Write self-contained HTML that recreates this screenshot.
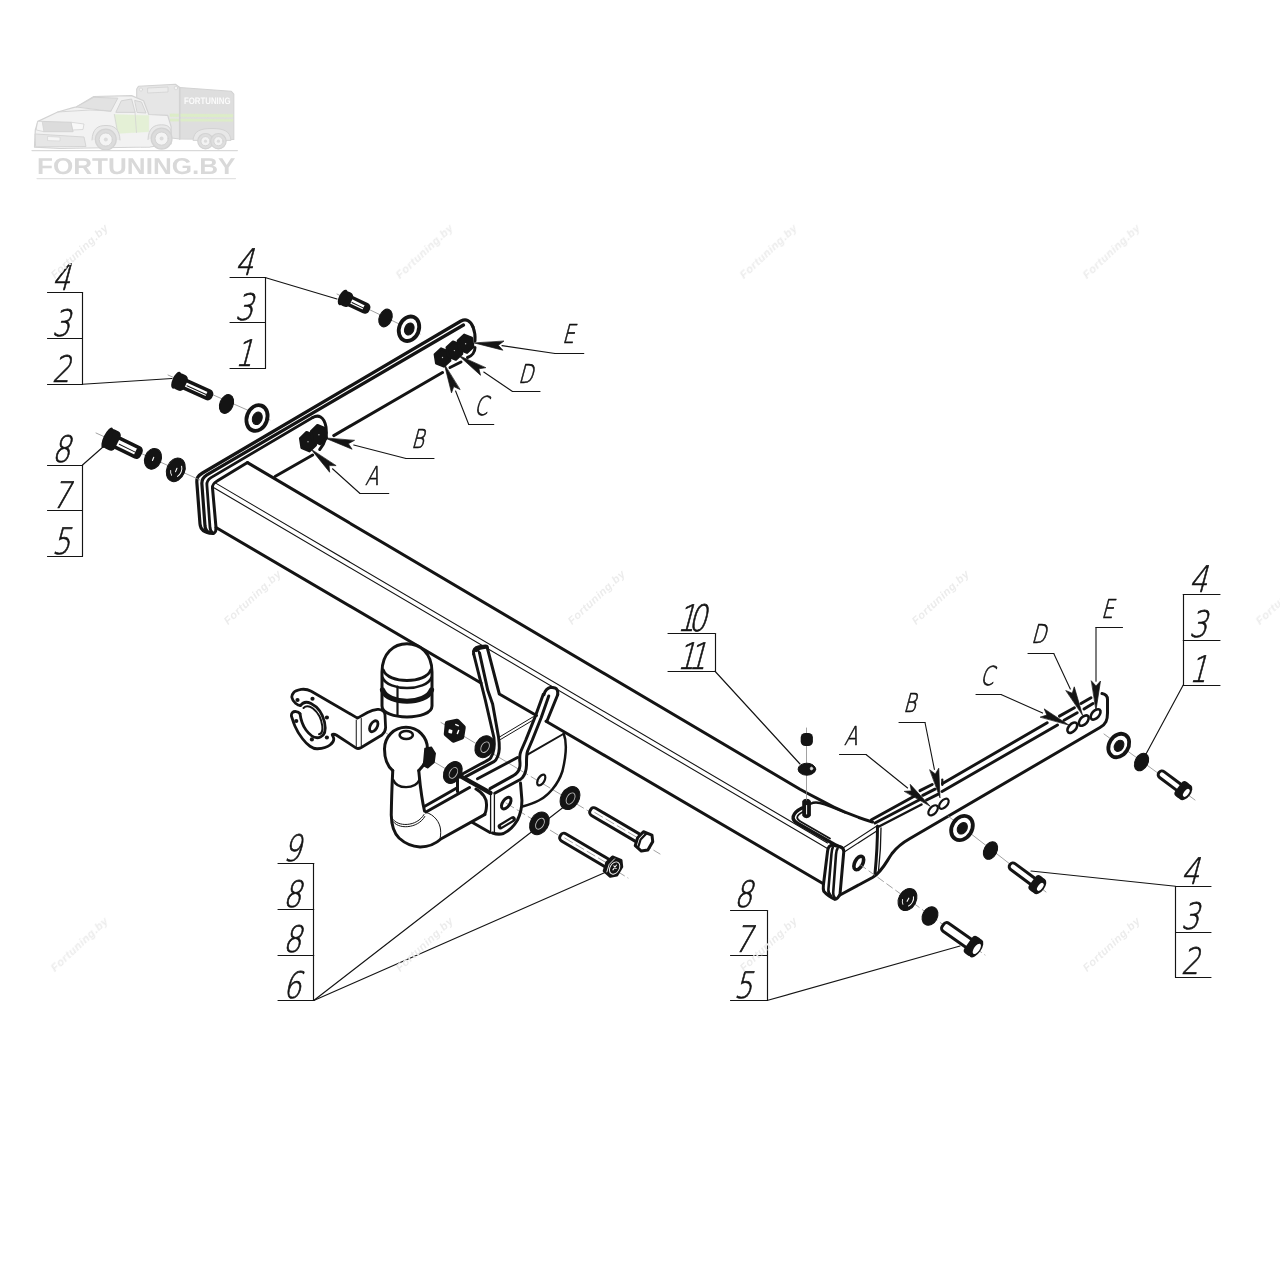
<!DOCTYPE html>
<html lang="ru"><head><meta charset="utf-8"><title>Fortuning.by</title>
<style>
html,body{margin:0;padding:0;background:#fff;}
body{width:1280px;height:1280px;overflow:hidden;}
svg{display:block;}
text{text-rendering:geometricPrecision;}
.g{font-family:"DejaVu Sans Light","DejaVu Sans ExtraLight","Liberation Sans",sans-serif;font-weight:200;fill:#141414;stroke:#141414;stroke-width:0.7px;}
.wm{font-family:"Liberation Sans",sans-serif;font-style:italic;font-weight:bold;font-size:11px;fill:#ececec;letter-spacing:0.5px;}
.lg{font-family:"Liberation Sans",sans-serif;font-weight:bold;fill:#d9d9d9;}
</style></head><body>
<svg width="1280" height="1280" viewBox="0 0 1280 1280" stroke-linecap="round" stroke-linejoin="round">
<rect width="1280" height="1280" fill="#fff"/>
<g opacity="0.999">
<line x1="47.50" y1="292.50" x2="82.50" y2="292.50" stroke="#141414" stroke-width="1.15" />
<line x1="47.50" y1="338.50" x2="82.50" y2="338.50" stroke="#141414" stroke-width="1.15" />
<line x1="47.50" y1="384.50" x2="82.50" y2="384.50" stroke="#141414" stroke-width="1.15" />
<line x1="82.50" y1="292.50" x2="82.50" y2="384.50" stroke="#141414" stroke-width="1.15" />
<text class="g" transform="translate(51.80 289.90) skewX(-15) scale(0.78 1)" font-size="36.5" text-anchor="start">4</text>
<text class="g" transform="translate(51.80 336.15) skewX(-15) scale(0.78 1)" font-size="36.5" text-anchor="start">3</text>
<text class="g" transform="translate(51.80 381.65) skewX(-15) scale(0.78 1)" font-size="36.5" text-anchor="start">2</text>
<line x1="82.50" y1="384.25" x2="172.00" y2="378.50" stroke="#141414" stroke-width="1.15" />
<line x1="47.50" y1="465.50" x2="82.50" y2="465.50" stroke="#141414" stroke-width="1.15" />
<line x1="47.50" y1="510.50" x2="82.50" y2="510.50" stroke="#141414" stroke-width="1.15" />
<line x1="47.50" y1="556.50" x2="82.50" y2="556.50" stroke="#141414" stroke-width="1.15" />
<line x1="82.50" y1="465.50" x2="82.50" y2="556.50" stroke="#141414" stroke-width="1.15" />
<text class="g" transform="translate(51.80 462.40) skewX(-15) scale(0.78 1)" font-size="36.5" text-anchor="start">8</text>
<text class="g" transform="translate(51.80 507.90) skewX(-15) scale(0.78 1)" font-size="36.5" text-anchor="start">7</text>
<text class="g" transform="translate(51.80 553.65) skewX(-15) scale(0.78 1)" font-size="36.5" text-anchor="start">5</text>
<line x1="82.50" y1="465.00" x2="103.50" y2="446.50" stroke="#141414" stroke-width="1.15" />
<line x1="230.00" y1="277.50" x2="265.00" y2="277.50" stroke="#141414" stroke-width="1.15" />
<line x1="230.00" y1="322.50" x2="265.00" y2="322.50" stroke="#141414" stroke-width="1.15" />
<line x1="230.00" y1="368.50" x2="265.00" y2="368.50" stroke="#141414" stroke-width="1.15" />
<line x1="265.50" y1="277.50" x2="265.50" y2="368.50" stroke="#141414" stroke-width="1.15" />
<text class="g" transform="translate(234.80 274.90) skewX(-15) scale(0.78 1)" font-size="36.5" text-anchor="start">4</text>
<text class="g" transform="translate(234.80 319.90) skewX(-15) scale(0.78 1)" font-size="36.5" text-anchor="start">3</text>
<text class="g" transform="translate(234.80 365.65) skewX(-15) scale(0.78 1)" font-size="36.5" text-anchor="start">1</text>
<line x1="265.00" y1="277.50" x2="337.00" y2="299.00" stroke="#141414" stroke-width="1.15" />
<line x1="668.00" y1="633.50" x2="715.00" y2="633.50" stroke="#141414" stroke-width="1.15" />
<line x1="668.00" y1="671.50" x2="715.00" y2="671.50" stroke="#141414" stroke-width="1.15" />
<line x1="715.50" y1="633.50" x2="715.50" y2="671.50" stroke="#141414" stroke-width="1.15" />
<text class="g" transform="translate(676.80 631.15) skewX(-15) scale(0.78 1)" font-size="36.5" text-anchor="start" letter-spacing="-8.8">10</text>
<text class="g" transform="translate(676.80 668.65) skewX(-15) scale(0.78 1)" font-size="36.5" text-anchor="start" letter-spacing="-8.8">11</text>
<line x1="715.00" y1="671.25" x2="800.00" y2="764.00" stroke="#141414" stroke-width="1.15" />
<line x1="1183.25" y1="594.50" x2="1220.00" y2="594.50" stroke="#141414" stroke-width="1.15" />
<line x1="1183.25" y1="640.50" x2="1220.00" y2="640.50" stroke="#141414" stroke-width="1.15" />
<line x1="1183.25" y1="685.50" x2="1220.00" y2="685.50" stroke="#141414" stroke-width="1.15" />
<line x1="1183.50" y1="594.50" x2="1183.50" y2="685.50" stroke="#141414" stroke-width="1.15" />
<text class="g" transform="translate(1188.80 591.65) skewX(-15) scale(0.78 1)" font-size="36.5" text-anchor="start">4</text>
<text class="g" transform="translate(1188.80 637.40) skewX(-15) scale(0.78 1)" font-size="36.5" text-anchor="start">3</text>
<text class="g" transform="translate(1188.80 682.40) skewX(-15) scale(0.78 1)" font-size="36.5" text-anchor="start">1</text>
<line x1="1183.25" y1="685.00" x2="1146.00" y2="754.00" stroke="#141414" stroke-width="1.15" />
<line x1="1175.50" y1="886.50" x2="1211.00" y2="886.50" stroke="#141414" stroke-width="1.15" />
<line x1="1175.50" y1="932.50" x2="1211.00" y2="932.50" stroke="#141414" stroke-width="1.15" />
<line x1="1175.50" y1="977.50" x2="1211.00" y2="977.50" stroke="#141414" stroke-width="1.15" />
<line x1="1175.50" y1="886.50" x2="1175.50" y2="977.50" stroke="#141414" stroke-width="1.15" />
<text class="g" transform="translate(1180.80 883.65) skewX(-15) scale(0.78 1)" font-size="36.5" text-anchor="start">4</text>
<text class="g" transform="translate(1180.80 929.40) skewX(-15) scale(0.78 1)" font-size="36.5" text-anchor="start">3</text>
<text class="g" transform="translate(1180.80 974.40) skewX(-15) scale(0.78 1)" font-size="36.5" text-anchor="start">2</text>
<line x1="1175.50" y1="886.25" x2="1031.00" y2="871.00" stroke="#141414" stroke-width="1.15" />
<line x1="730.50" y1="910.50" x2="767.00" y2="910.50" stroke="#141414" stroke-width="1.15" />
<line x1="730.50" y1="955.50" x2="767.00" y2="955.50" stroke="#141414" stroke-width="1.15" />
<line x1="730.50" y1="1000.50" x2="767.00" y2="1000.50" stroke="#141414" stroke-width="1.15" />
<line x1="767.50" y1="910.50" x2="767.50" y2="1000.50" stroke="#141414" stroke-width="1.15" />
<text class="g" transform="translate(733.80 907.40) skewX(-15) scale(0.78 1)" font-size="36.5" text-anchor="start">8</text>
<text class="g" transform="translate(733.80 952.40) skewX(-15) scale(0.78 1)" font-size="36.5" text-anchor="start">7</text>
<text class="g" transform="translate(733.80 997.90) skewX(-15) scale(0.78 1)" font-size="36.5" text-anchor="start">5</text>
<line x1="767.00" y1="1000.50" x2="960.00" y2="946.00" stroke="#141414" stroke-width="1.15" />
<line x1="278.00" y1="863.50" x2="313.75" y2="863.50" stroke="#141414" stroke-width="1.15" />
<line x1="278.00" y1="909.50" x2="313.75" y2="909.50" stroke="#141414" stroke-width="1.15" />
<line x1="278.00" y1="955.50" x2="313.75" y2="955.50" stroke="#141414" stroke-width="1.15" />
<line x1="278.00" y1="1000.50" x2="313.75" y2="1000.50" stroke="#141414" stroke-width="1.15" />
<line x1="313.50" y1="863.50" x2="313.50" y2="1000.50" stroke="#141414" stroke-width="1.15" />
<text class="g" transform="translate(282.80 861.15) skewX(-15) scale(0.78 1)" font-size="36.5" text-anchor="start">9</text>
<text class="g" transform="translate(282.80 906.90) skewX(-15) scale(0.78 1)" font-size="36.5" text-anchor="start">8</text>
<text class="g" transform="translate(282.80 952.40) skewX(-15) scale(0.78 1)" font-size="36.5" text-anchor="start">8</text>
<text class="g" transform="translate(282.80 997.90) skewX(-15) scale(0.78 1)" font-size="36.5" text-anchor="start">6</text>
<line x1="313.75" y1="1000.50" x2="563.00" y2="807.50" stroke="#141414" stroke-width="1.15" />
<line x1="313.75" y1="1000.50" x2="605.00" y2="872.50" stroke="#141414" stroke-width="1.15" />
<text class="g" transform="translate(365.00 484.50) skewX(-15) scale(0.74 1)" font-size="26">A</text>
<line x1="360.00" y1="493.50" x2="388.75" y2="493.50" stroke="#141414" stroke-width="1.15" />
<line x1="360.00" y1="493.50" x2="332.50" y2="468.75" stroke="#141414" stroke-width="1.1" />
<path d="M311.25,449.40 L329.66,472.25 L329.05,465.61 L335.72,465.60 Z" fill="#141414" stroke="#141414" stroke-width="0.7"/>
<text class="g" transform="translate(411.00 447.50) skewX(-15) scale(0.74 1)" font-size="26">B</text>
<line x1="406.00" y1="458.50" x2="434.00" y2="458.50" stroke="#141414" stroke-width="1.15" />
<line x1="406.00" y1="458.50" x2="353.75" y2="445.00" stroke="#141414" stroke-width="1.1" />
<path d="M325.00,438.00 L352.11,449.23 L348.39,443.69 L354.24,440.49 Z" fill="#141414" stroke="#141414" stroke-width="0.7"/>
<text class="g" transform="translate(474.00 415.00) skewX(-15) scale(0.74 1)" font-size="26">C</text>
<line x1="468.75" y1="424.50" x2="493.75" y2="424.50" stroke="#141414" stroke-width="1.15" />
<line x1="468.75" y1="424.50" x2="455.60" y2="391.00" stroke="#141414" stroke-width="1.1" />
<path d="M444.40,364.40 L451.51,392.87 L453.74,386.58 L459.80,389.38 Z" fill="#141414" stroke="#141414" stroke-width="0.7"/>
<text class="g" transform="translate(518.00 382.50) skewX(-15) scale(0.74 1)" font-size="26">D</text>
<line x1="512.50" y1="391.50" x2="540.00" y2="391.50" stroke="#141414" stroke-width="1.15" />
<line x1="512.50" y1="391.50" x2="483.75" y2="372.00" stroke="#141414" stroke-width="1.1" />
<path d="M458.75,355.60 L480.53,375.27 L478.88,368.80 L485.47,367.74 Z" fill="#141414" stroke="#141414" stroke-width="0.7"/>
<text class="g" transform="translate(562.00 342.50) skewX(-15) scale(0.74 1)" font-size="26">E</text>
<line x1="555.00" y1="353.50" x2="583.75" y2="353.50" stroke="#141414" stroke-width="1.15" />
<line x1="555.00" y1="353.50" x2="502.00" y2="345.60" stroke="#141414" stroke-width="1.1" />
<path d="M474.40,343.00 L502.85,350.20 L498.36,345.26 L503.69,341.24 Z" fill="#141414" stroke="#141414" stroke-width="0.7"/>
<text class="g" transform="translate(844.00 745.00) skewX(-15) scale(0.74 1)" font-size="26">A</text>
<line x1="839.50" y1="754.50" x2="866.00" y2="754.50" stroke="#141414" stroke-width="1.15" />
<line x1="866.00" y1="754.50" x2="907.60" y2="788.00" stroke="#141414" stroke-width="1.1" />
<path d="M930.00,806.00 L910.21,784.33 L911.24,790.92 L904.58,791.34 Z" fill="#141414" stroke="#141414" stroke-width="0.7"/>
<text class="g" transform="translate(903.00 712.00) skewX(-15) scale(0.74 1)" font-size="26">B</text>
<line x1="899.00" y1="722.50" x2="925.00" y2="722.50" stroke="#141414" stroke-width="1.15" />
<line x1="925.00" y1="722.50" x2="934.40" y2="769.40" stroke="#141414" stroke-width="1.1" />
<path d="M940.00,797.50 L938.75,768.18 L935.30,773.89 L929.92,769.94 Z" fill="#141414" stroke="#141414" stroke-width="0.7"/>
<text class="g" transform="translate(980.00 684.50) skewX(-15) scale(0.74 1)" font-size="26">C</text>
<line x1="976.00" y1="694.50" x2="1001.00" y2="694.50" stroke="#141414" stroke-width="1.15" />
<line x1="1001.00" y1="694.50" x2="1042.60" y2="713.10" stroke="#141414" stroke-width="1.1" />
<path d="M1068.75,725.00 L1044.22,708.89 L1046.84,715.03 L1040.49,717.08 Z" fill="#141414" stroke="#141414" stroke-width="0.7"/>
<text class="g" transform="translate(1031.00 643.00) skewX(-15) scale(0.74 1)" font-size="26">D</text>
<line x1="1028.00" y1="653.50" x2="1053.75" y2="653.50" stroke="#141414" stroke-width="1.15" />
<line x1="1053.75" y1="653.50" x2="1070.30" y2="689.00" stroke="#141414" stroke-width="1.1" />
<path d="M1082.50,715.00 L1074.25,686.83 L1072.28,693.21 L1066.11,690.66 Z" fill="#141414" stroke="#141414" stroke-width="0.7"/>
<text class="g" transform="translate(1101.00 617.50) skewX(-15) scale(0.74 1)" font-size="26">E</text>
<line x1="1096.00" y1="627.50" x2="1122.50" y2="627.50" stroke="#141414" stroke-width="1.15" />
<line x1="1096.00" y1="627.50" x2="1096.00" y2="681.30" stroke="#141414" stroke-width="1.1" />
<path d="M1096.00,710.00 L1100.50,681.00 L1096.00,685.93 L1091.50,681.00 Z" fill="#141414" stroke="#141414" stroke-width="0.7"/>
<path d="M247.5,462.65 L800,789.2 C812,795.8 825,802.5 833.75,807 C845,812.5 858,817.5 872.5,822" stroke="#141414" stroke-width="3.0" fill="none" />
<line x1="214.40" y1="482.40" x2="827.50" y2="843.00" stroke="#141414" stroke-width="1.1" />
<line x1="213.90" y1="487.80" x2="827.00" y2="848.20" stroke="#141414" stroke-width="1.1" />
<line x1="216.00" y1="527.50" x2="481.00" y2="683.00" stroke="#141414" stroke-width="3.0" />
<path d="M487.3,647.8 L499.3,694 L536.5,715.5" stroke="#141414" stroke-width="3.0" fill="none" />
<line x1="546.00" y1="721.20" x2="823.75" y2="884.00" stroke="#141414" stroke-width="3.0" />
<path d="M473,327 C470.5,320.5 466,318.5 461,321 L202.5,473 C197.5,476 196.5,478 196.9,483 L200,524 C200.5,530 204,532.5 213,533.5" stroke="#141414" stroke-width="3.2" fill="none" />
<path d="M463.5,325 L206.9,474.8 C202.5,477.5 201.6,480 201.9,484 L205,526 C205.4,530 206.5,531.5 209,532.5" stroke="#141414" stroke-width="3.2" fill="none" />
<path d="M312.7,417.5 L211,477.6 C207.5,479.8 206.6,481.5 206.9,485 L210,527.5 C210.3,530.5 211,532 213,533" stroke="#141414" stroke-width="2.8" fill="none" />
<path d="M247.5,462.5 L217.5,480.7 C213.5,483 212.2,484.5 212.5,488 L216,527.5 C216.3,531 215.5,532.5 213.5,533.5" stroke="#141414" stroke-width="3.0" fill="none" />
<path d="M473,327 C475,332 475.3,337 475,341" stroke="#141414" stroke-width="3.0" fill="none" />
<path d="M475,347.5 C475,352 472,356 467.5,357.5" stroke="#141414" stroke-width="3.0" fill="none" />
<line x1="275.00" y1="476.50" x2="312.70" y2="455.00" stroke="#141414" stroke-width="3.0" />
<line x1="333.75" y1="435.60" x2="442.50" y2="372.50" stroke="#141414" stroke-width="3.0" />
<line x1="450.00" y1="367.50" x2="461.00" y2="362.00" stroke="#141414" stroke-width="3.0" />
<path d="M312.7,417.5 C318,414.5 324,416 326,427 C327.2,434 326,442 319.7,449.5" stroke="#141414" stroke-width="3.0" fill="none" />
<line x1="337.00" y1="294.00" x2="420.00" y2="334.00" stroke="#8a8a8a" stroke-width="0.8" />
<line x1="168.00" y1="375.00" x2="270.00" y2="420.00" stroke="#8a8a8a" stroke-width="0.8" />
<line x1="96.00" y1="433.00" x2="200.00" y2="480.00" stroke="#8a8a8a" stroke-width="0.8" />
<path d="M315.76,444.98 L309.43,451.15 L301.68,447.87 L300.24,438.42 L306.57,432.25 L314.32,435.53 Z" stroke="#141414" stroke-width="2.6" fill="#141414" />
<circle cx="308.00" cy="441.70" r="0.7" fill="#bbb"/>
<path d="M326.66,437.98 L320.33,444.15 L312.58,440.87 L311.14,431.42 L317.47,425.25 L325.22,428.53 Z" stroke="#141414" stroke-width="2.6" fill="#141414" />
<circle cx="318.90" cy="434.70" r="0.7" fill="#bbb"/>
<path d="M450.11,360.58 L443.91,366.36 L436.30,363.29 L434.89,354.42 L441.09,348.64 L448.70,351.71 Z" stroke="#141414" stroke-width="2.6" fill="#141414" />
<circle cx="442.50" cy="357.50" r="0.7" fill="#bbb"/>
<path d="M462.01,353.68 L455.81,359.46 L448.20,356.39 L446.79,347.52 L452.99,341.74 L460.60,344.81 Z" stroke="#141414" stroke-width="2.6" fill="#141414" />
<circle cx="454.40" cy="350.60" r="0.7" fill="#bbb"/>
<path d="M473.21,346.83 L467.01,352.61 L459.40,349.54 L457.99,340.67 L464.19,334.89 L471.80,337.96 Z" stroke="#141414" stroke-width="2.6" fill="#141414" />
<circle cx="465.60" cy="343.75" r="0.7" fill="#bbb"/>
<g transform="translate(345.00 298.50) rotate(25.56)">
<rect x="0" y="-4.00" width="25.50" height="8.00" rx="3" fill="#fff" stroke="#141414" stroke-width="3.4"/>
<rect x="20.50" y="-4.00" width="5" height="8.00" rx="2.5" fill="#141414"/>
<line x1="8.00" y1="0.6" x2="20.50" y2="0.6" stroke="#141414" stroke-width="0.9"/>
<rect x="-4.00" y="-7.80" width="11.00" height="15.60" rx="4.5" fill="#141414"/>
<ellipse cx="-2.50" cy="0" rx="3.8" ry="8.40" fill="#141414"/>
</g>
<ellipse cx="385.50" cy="318.00" rx="6.30" ry="9.20" transform="rotate(22 385.50 318.00)" stroke="#141414" stroke-width="1" fill="#141414"/>
<ellipse cx="409.00" cy="328.75" rx="9.80" ry="12.60" transform="rotate(22 409.00 328.75)" stroke="#141414" stroke-width="3.8" fill="#fff"/>
<ellipse cx="409.30" cy="329.05" rx="4.60" ry="6.20" transform="rotate(22 409.30 329.05)" stroke="#141414" stroke-width="1" fill="#141414"/>
<g transform="translate(179.00 381.50) rotate(24.38)">
<rect x="0" y="-4.00" width="35.13" height="8.00" rx="3" fill="#fff" stroke="#141414" stroke-width="3.4"/>
<rect x="30.13" y="-4.00" width="5" height="8.00" rx="2.5" fill="#141414"/>
<line x1="9.00" y1="0.6" x2="30.13" y2="0.6" stroke="#141414" stroke-width="0.9"/>
<rect x="-4.50" y="-8.50" width="12.00" height="17.00" rx="4.5" fill="#141414"/>
<ellipse cx="-3.00" cy="0" rx="3.8" ry="9.10" fill="#141414"/>
</g>
<ellipse cx="226.50" cy="404.00" rx="6.60" ry="9.80" transform="rotate(22 226.50 404.00)" stroke="#141414" stroke-width="1" fill="#141414"/>
<ellipse cx="257.00" cy="418.00" rx="10.20" ry="13.20" transform="rotate(20 257.00 418.00)" stroke="#141414" stroke-width="3.8" fill="#fff"/>
<ellipse cx="257.30" cy="418.30" rx="4.80" ry="6.40" transform="rotate(20 257.30 418.30)" stroke="#141414" stroke-width="1" fill="#141414"/>
<g transform="translate(110.50 439.30) rotate(26.02)">
<rect x="0" y="-5.00" width="32.83" height="10.00" rx="3" fill="#fff" stroke="#141414" stroke-width="3.4"/>
<rect x="27.83" y="-5.00" width="5" height="10.00" rx="2.5" fill="#141414"/>
<line x1="10.00" y1="0.6" x2="27.83" y2="0.6" stroke="#141414" stroke-width="0.9"/>
<rect x="-5.00" y="-10.60" width="13.00" height="21.20" rx="4.5" fill="#141414"/>
<ellipse cx="-3.50" cy="0" rx="3.8" ry="11.20" fill="#141414"/>
</g>
<ellipse cx="153.00" cy="458.80" rx="8.20" ry="10.60" transform="rotate(22 153.00 458.80)" stroke="#141414" stroke-width="1" fill="#141414"/>
<line x1="153.70" y1="457.40" x2="152.50" y2="460.40" stroke="#fff" stroke-width="1.2"/>
<ellipse cx="175.80" cy="469.80" rx="9.00" ry="12.20" transform="rotate(22 175.80 469.80)" stroke="#141414" stroke-width="1" fill="#141414"/>
<g transform="rotate(22 175.80 469.80)"><path d="M179.85,464.31 A4.95,7.32 0 0 1 179.85,475.29" stroke="#fff" stroke-width="1.0" fill="none"/><path d="M174.00,476.51 A4.95,7.32 0 0 1 171.30,472.24" stroke="#fff" stroke-width="0.9" fill="none"/><line x1="176.30" y1="468.00" x2="176.30" y2="471.60" stroke="#fff" stroke-width="1.1"/></g>
<path d="M802,808 C797,810.5 794,813.5 793.2,816.5 C792.6,819.5 794.5,821.5 797.5,823.2 L832,843 C836,845.5 839,846.5 842,848" stroke="#141414" stroke-width="3.4" fill="none" />
<path d="M803.5,811.5 C799.5,813.5 797.3,815.5 797.2,817.5 C797.2,819 798.5,820.3 800.5,821.5 L830,838.5" stroke="#141414" stroke-width="1.8" fill="none" />
<path d="M810.6,803.75 C813,802.5 816,802 820,803 C828,805 836,808.5 845,812.5" stroke="#141414" stroke-width="2.4" fill="none" />
<path d="M803.2,801.5 L803.2,815.3 C804.5,817.8 808.5,817.8 809.9,815.3 L809.9,801.5 C808.5,799 804.5,799 803.2,801.5 Z" stroke="#141414" stroke-width="2.0" fill="#141414" />
<line x1="806.60" y1="805.50" x2="806.60" y2="814.00" stroke="#fff" stroke-width="1.0" />
<path d="M840,894.4 C838.5,897.5 837,899 835,899.4 C831,897.5 826.5,894.5 823.75,891.25 C823,889 823.2,887 823.4,885 L827.6,851 C828,847.5 829.5,845.3 832.5,845 L840.5,847 C843.2,848 844,849.5 843.75,852 Z" stroke="#141414" stroke-width="3.0" fill="#fff" />
<path d="M832.8,847.3 C831.9,849 831.7,851 831.5,853.5 L828.4,889.5 C828.2,892 828.8,894 831,896" stroke="#141414" stroke-width="2.6" fill="none" />
<path d="M837.5,848.6 C836.4,850 836.2,852 836,854.5 L833.2,892.5 C833,895 833.6,896.8 835,898.2" stroke="#141414" stroke-width="2.6" fill="none" />
<line x1="843.00" y1="848.00" x2="876.00" y2="826.50" stroke="#141414" stroke-width="1.1" />
<line x1="845.00" y1="851.50" x2="877.50" y2="830.50" stroke="#141414" stroke-width="1.1" />
<path d="M877.5,826 C877.5,840 876.5,858 875,874" stroke="#141414" stroke-width="3.0" fill="none" />
<path d="M881,828 C881,842 880,858 878.5,871" stroke="#141414" stroke-width="1.3" fill="none" />
<path d="M840,895 L872.5,877.5 C882,872 886,862 892,853.5 C897,847 902,843 910,838.5 L1100,727.5 C1106,724 1107.5,720 1107.5,713 L1107.5,699.5 C1107.5,695.5 1105,694 1102,693.5" stroke="#141414" stroke-width="3.0" fill="none" />
<ellipse cx="858.75" cy="863.00" rx="3.90" ry="7.40" transform="rotate(28 858.75 863.00)" stroke="#141414" stroke-width="3.6" fill="none"/>
<line x1="871.50" y1="819.70" x2="916.00" y2="795.30" stroke="#141414" stroke-width="3.0" />
<line x1="875.00" y1="823.00" x2="920.00" y2="799.50" stroke="#141414" stroke-width="3.0" />
<line x1="879.00" y1="826.50" x2="921.50" y2="804.50" stroke="#141414" stroke-width="2.5" />
<line x1="942.50" y1="783.50" x2="1047.20" y2="722.70" stroke="#141414" stroke-width="3.0" />
<line x1="942.00" y1="791.50" x2="1057.50" y2="725.00" stroke="#141414" stroke-width="3.0" />
<line x1="942.30" y1="779.50" x2="942.30" y2="785.00" stroke="#141414" stroke-width="2.2" />
<line x1="1059.40" y1="716.10" x2="1074.40" y2="707.70" stroke="#141414" stroke-width="3.0" />
<line x1="1064.00" y1="720.30" x2="1077.20" y2="712.80" stroke="#141414" stroke-width="3.0" />
<line x1="1081.00" y1="703.50" x2="1091.00" y2="697.80" stroke="#141414" stroke-width="3.0" />
<line x1="1084.00" y1="709.00" x2="1093.00" y2="703.50" stroke="#141414" stroke-width="3.0" />
<line x1="920.00" y1="790.60" x2="932.20" y2="784.50" stroke="#141414" stroke-width="3.0" />
<line x1="922.80" y1="795.30" x2="935.00" y2="789.20" stroke="#141414" stroke-width="3.0" />
<line x1="926.60" y1="800.00" x2="937.80" y2="794.40" stroke="#141414" stroke-width="3.0" />
<ellipse cx="933.10" cy="810.30" rx="3.50" ry="6.00" transform="rotate(42 933.10 810.30)" stroke="#141414" stroke-width="2.2" fill="none"/>
<ellipse cx="943.90" cy="803.75" rx="3.50" ry="6.00" transform="rotate(42 943.90 803.75)" stroke="#141414" stroke-width="2.2" fill="none"/>
<ellipse cx="1072.30" cy="727.70" rx="3.60" ry="6.20" transform="rotate(42 1072.30 727.70)" stroke="#141414" stroke-width="2.6" fill="none"/>
<ellipse cx="1083.75" cy="720.60" rx="3.60" ry="6.20" transform="rotate(42 1083.75 720.60)" stroke="#141414" stroke-width="2.6" fill="none"/>
<ellipse cx="1095.60" cy="714.40" rx="3.60" ry="6.20" transform="rotate(42 1095.60 714.40)" stroke="#141414" stroke-width="2.6" fill="none"/>
<line x1="1104.00" y1="734.00" x2="1195.00" y2="800.00" stroke="#8a8a8a" stroke-width="0.8" />
<line x1="948.00" y1="816.00" x2="1046.00" y2="892.00" stroke="#8a8a8a" stroke-width="0.8" />
<line x1="860.00" y1="864.50" x2="985.00" y2="955.00" stroke="#8a8a8a" stroke-width="0.8" stroke-dasharray="7 4"/>
<ellipse cx="1118.75" cy="745.50" rx="9.60" ry="12.40" transform="rotate(32 1118.75 745.50)" stroke="#141414" stroke-width="3.8" fill="#fff"/>
<ellipse cx="1119.05" cy="745.80" rx="4.40" ry="6.00" transform="rotate(32 1119.05 745.80)" stroke="#141414" stroke-width="1" fill="#141414"/>
<ellipse cx="1141.50" cy="762.00" rx="6.40" ry="9.40" transform="rotate(28 1141.50 762.00)" stroke="#141414" stroke-width="1" fill="#141414"/>
<g transform="translate(1181.50 789.30) rotate(-143.25)">
<rect x="0" y="-3.70" width="28.08" height="7.40" rx="3.5" fill="#fff" stroke="#141414" stroke-width="3.0"/>
<rect x="-6.00" y="-9.00" width="10.00" height="18.00" rx="4" fill="#141414"/>
<ellipse cx="-5.00" cy="0" rx="5.2" ry="9.00" fill="#141414"/>
<ellipse cx="-6.00" cy="0" rx="2.3" ry="4.60" fill="#fff"/>
</g>
<ellipse cx="962.00" cy="828.00" rx="10.00" ry="12.80" transform="rotate(32 962.00 828.00)" stroke="#141414" stroke-width="3.8" fill="#fff"/>
<ellipse cx="962.30" cy="828.30" rx="4.60" ry="6.20" transform="rotate(32 962.30 828.30)" stroke="#141414" stroke-width="1" fill="#141414"/>
<ellipse cx="990.50" cy="850.50" rx="6.40" ry="9.40" transform="rotate(28 990.50 850.50)" stroke="#141414" stroke-width="1" fill="#141414"/>
<g transform="translate(1035.50 883.30) rotate(-143.60)">
<rect x="0" y="-3.70" width="31.68" height="7.40" rx="3.5" fill="#fff" stroke="#141414" stroke-width="3.0"/>
<rect x="-6.00" y="-9.00" width="10.00" height="18.00" rx="4" fill="#141414"/>
<ellipse cx="-5.00" cy="0" rx="5.2" ry="9.00" fill="#141414"/>
<ellipse cx="-6.00" cy="0" rx="2.3" ry="4.60" fill="#fff"/>
</g>
<ellipse cx="907.50" cy="899.50" rx="8.80" ry="11.60" transform="rotate(28 907.50 899.50)" stroke="#141414" stroke-width="1" fill="#141414"/>
<g transform="rotate(28 907.50 899.50)"><path d="M911.46,894.28 A4.84,6.96 0 0 1 911.46,904.72" stroke="#fff" stroke-width="1.0" fill="none"/><path d="M905.74,905.88 A4.84,6.96 0 0 1 903.10,901.82" stroke="#fff" stroke-width="0.9" fill="none"/><line x1="908.00" y1="897.70" x2="908.00" y2="901.30" stroke="#fff" stroke-width="1.1"/></g>
<ellipse cx="930.00" cy="916.00" rx="7.40" ry="9.80" transform="rotate(28 930.00 916.00)" stroke="#141414" stroke-width="1" fill="#141414"/>
<g transform="translate(971.50 945.20) rotate(-144.94)">
<rect x="0" y="-4.90" width="34.82" height="9.80" rx="3.5" fill="#fff" stroke="#141414" stroke-width="3.0"/>
<rect x="-6.50" y="-10.40" width="10.50" height="20.80" rx="4" fill="#141414"/>
<ellipse cx="-5.50" cy="0" rx="5.2" ry="10.40" fill="#141414"/>
<ellipse cx="-6.50" cy="0" rx="2.8" ry="6.00" fill="#fff"/>
</g>
<line x1="806.50" y1="728.00" x2="806.50" y2="800.00" stroke="#8a8a8a" stroke-width="0.8" />
<rect x="800.7" y="733" width="12.2" height="13" rx="4.6" fill="#141414"/>
<ellipse cx="806.90" cy="769.20" rx="8.80" ry="6.00" transform="rotate(0 806.90 769.20)" stroke="#141414" stroke-width="1" fill="#141414"/>
<ellipse cx="811.50" cy="768.50" rx="1.30" ry="1.60" transform="rotate(0 811.50 768.50)" stroke="#ddd" stroke-width="0.5" fill="#ddd"/>
<line x1="366.00" y1="721.00" x2="470.00" y2="783.50" stroke="#8a8a8a" stroke-width="0.8" />
<line x1="441.00" y1="722.50" x2="520.00" y2="770.00" stroke="#8a8a8a" stroke-width="0.8" />
<line x1="520.00" y1="770.00" x2="660.00" y2="854.00" stroke="#8a8a8a" stroke-width="0.8" stroke-dasharray="9 4"/>
<line x1="506.00" y1="803.00" x2="628.00" y2="878.00" stroke="#8a8a8a" stroke-width="0.8" stroke-dasharray="9 4"/>
<path d="M563.75,733.75 C567,742 567,752 562.5,771 C558,785 548,796 538.75,800.5 C533,803.5 528,805 522.5,806.5" stroke="#141414" stroke-width="2.5" fill="none" />
<line x1="527.50" y1="754.70" x2="563.75" y2="733.75" stroke="#141414" stroke-width="2.0" />
<line x1="499.00" y1="737.30" x2="533.40" y2="716.70" stroke="#141414" stroke-width="1.0" />
<line x1="500.50" y1="739.50" x2="534.40" y2="719.30" stroke="#141414" stroke-width="1.0" />
<ellipse cx="541.25" cy="780.00" rx="3.20" ry="6.00" transform="rotate(30 541.25 780.00)" stroke="#141414" stroke-width="2.2" fill="none"/>
<path d="M473.7,654 C472.5,650 475,647.5 479,646.8 L485.5,646 C487,646 487.3,646.8 487.3,647.8" stroke="#141414" stroke-width="3.0" fill="none" />
<path d="M473.7,654 L485.3,700 L493.9,737.5 C494.8,745 494.5,752 490.8,757.8 C489,760 486,761.5 482,763.3 L461.9,774.2" stroke="#141414" stroke-width="3.0" fill="none" />
<path d="M479.5,652.9 L487.7,690 L492.6,704 L498.6,737.5 C499.8,746 499.5,752 497.8,756.25 C496.5,759.5 495,761 493.9,761.7 L465.8,776.6" stroke="#141414" stroke-width="3.0" fill="none" />
<path d="M477.5,649.5 L479.5,652.9" stroke="#141414" stroke-width="2.2" fill="none" />
<path d="M476,650.5 C478,648 481,647.5 486,647" stroke="#141414" stroke-width="3.4" fill="none" />
<path d="M544,694.7 C545,690.5 548,687.8 551,687.3 L555,688 C557.3,688.6 558,690.5 557.7,694.7" stroke="#141414" stroke-width="3.0" fill="none" />
<path d="M543.3,694.2 L535.6,715.6 L525.8,740 L521,751 C519.3,755 519.5,759 520,763 C520.3,767.5 519,770.5 517,772.8 C515.5,774.5 514.5,775 513.4,775.6 L490,788.6" stroke="#141414" stroke-width="3.0" fill="none" />
<path d="M548.75,696 L541.25,717.5 L532.3,740 L527.6,751 C526.3,755 526.5,760 526.5,765 C526.3,770.5 525,774.5 522.5,777.5 C521.5,778.5 521,779 520.3,779.5 L494.7,793.3" stroke="#141414" stroke-width="3.0" fill="none" />
<path d="M557.7,694.7 L546.8,721.5" stroke="#141414" stroke-width="3.0" fill="none" />
<line x1="477.50" y1="778.75" x2="517.50" y2="757.50" stroke="#141414" stroke-width="3.0" />
<line x1="459.50" y1="775.60" x2="490.50" y2="793.00" stroke="#141414" stroke-width="4.4" />
<line x1="490.60" y1="793.75" x2="490.60" y2="832.50" stroke="#141414" stroke-width="1.3" />
<line x1="494.40" y1="795.00" x2="494.40" y2="833.00" stroke="#141414" stroke-width="1.3" />
<path d="M492.5,833 C497,834.5 500,834.5 503.5,833.5 C509,831 514,826 517.5,820 C521,813 522,806 521.9,800 L520.5,783" stroke="#141414" stroke-width="3.0" fill="none" />
<line x1="472.50" y1="822.50" x2="490.00" y2="832.50" stroke="#141414" stroke-width="3.0" />
<ellipse cx="506.25" cy="803.10" rx="3.60" ry="6.60" transform="rotate(35 506.25 803.10)" stroke="#141414" stroke-width="3.0" fill="none"/>
<path d="M500.5,826.5 L513,819" stroke="#141414" stroke-width="5.6" fill="none" />
<line x1="501.50" y1="826.00" x2="512.00" y2="819.60" stroke="#fff" stroke-width="1.4" />
<path d="M392.75,770.6 C386,765 384.5,757 384.5,749 C384.5,737 394,727.3 406,727.3 C418,727.3 427.5,737 427.5,749 C427.5,758 424,766 418.75,770.6" stroke="#141414" stroke-width="3.0" fill="#fff" />
<ellipse cx="406.25" cy="735.00" rx="6.60" ry="4.00" transform="rotate(0 406.25 735.00)" stroke="#141414" stroke-width="2.6" fill="none"/>
<path d="M425.00,748.50 L431.30,747.20 L435.20,753.50 L434.00,762.50 L427.80,767.80 L423.50,765.50 Z" stroke="#141414" stroke-width="1.5" fill="#141414" />
<path d="M392.75,770.6 C392,785 391.5,800 391.25,815 C391.5,826 394,833 399,838 C405,843.5 412,846.5 420,846.9 C429,847 436,843.5 441.25,838.75 L485,814.4" stroke="#141414" stroke-width="3.0" fill="none" />
<path d="M418.75,770.6 C420,785 422,800 424.5,811" stroke="#141414" stroke-width="3.0" fill="none" />
<path d="M393.3,780 C397,789.5 415,789.5 419.4,780" stroke="#141414" stroke-width="2.4" fill="none" />
<path d="M392,818 C397,827.5 417,827 424,814.5" stroke="#141414" stroke-width="1.0" fill="none" />
<path d="M392.3,820.3 C397,830 418,829 424.8,816.5" stroke="#141414" stroke-width="1.0" fill="none" />
<path d="M426,812 L469.5,787.5" stroke="#141414" stroke-width="3.0" fill="none" />
<path d="M476,789 C483,793 487,799 486.5,806 C486.3,810 485.5,813 484.4,814.4" stroke="#141414" stroke-width="3.0" fill="none" />
<path d="M426.25,812.5 C434,814.5 440,822 440.6,830 C440.9,834 440.5,836.5 440,838.75" stroke="#141414" stroke-width="1.0" fill="none" />
<line x1="424.80" y1="806.30" x2="457.20" y2="787.80" stroke="#141414" stroke-width="3.0" />
<line x1="457.50" y1="780.00" x2="457.50" y2="791.50" stroke="#141414" stroke-width="3.0" />
<path d="M447.5,723.5 L457,721.5 L463,727.5 L461.5,737 L453.5,740 L446.5,734 Z" fill="#141414" stroke="#141414" stroke-width="5.5"/>
<path d="M449.5,730 l2.2,0.6 l-0.4,2.2 l-2.2,-0.6 Z M455.8,724.6 l2.4,1 M458.6,730.5 l-1.2,3" stroke="#fff" stroke-width="1.5" fill="#fff"/>
<ellipse cx="484.50" cy="746.75" rx="9.00" ry="11.40" transform="rotate(30 484.50 746.75)" stroke="#141414" stroke-width="1" fill="#141414"/>
<ellipse cx="485.10" cy="747.15" rx="3.78" ry="5.70" transform="rotate(30 485.10 747.15)" stroke="#bbb" stroke-width="0.9" fill="none"/>
<ellipse cx="485.10" cy="747.15" rx="1.80" ry="3.42" transform="rotate(30 485.10 747.15)" stroke="#141414" stroke-width="0.8" fill="#141414"/>
<ellipse cx="452.80" cy="772.50" rx="8.60" ry="11.60" transform="rotate(30 452.80 772.50)" stroke="#141414" stroke-width="1" fill="#141414"/>
<ellipse cx="453.40" cy="772.90" rx="3.61" ry="5.80" transform="rotate(30 453.40 772.90)" stroke="#bbb" stroke-width="0.9" fill="none"/>
<ellipse cx="453.40" cy="772.90" rx="1.72" ry="3.48" transform="rotate(30 453.40 772.90)" stroke="#141414" stroke-width="0.8" fill="#141414"/>
<ellipse cx="570.00" cy="798.10" rx="9.00" ry="12.20" transform="rotate(30 570.00 798.10)" stroke="#141414" stroke-width="1" fill="#141414"/>
<ellipse cx="570.60" cy="798.50" rx="3.78" ry="6.10" transform="rotate(30 570.60 798.50)" stroke="#bbb" stroke-width="0.9" fill="none"/>
<ellipse cx="570.60" cy="798.50" rx="1.80" ry="3.66" transform="rotate(30 570.60 798.50)" stroke="#141414" stroke-width="0.8" fill="#141414"/>
<ellipse cx="539.40" cy="823.30" rx="9.00" ry="12.00" transform="rotate(30 539.40 823.30)" stroke="#141414" stroke-width="1" fill="#141414"/>
<ellipse cx="540.00" cy="823.70" rx="3.78" ry="6.00" transform="rotate(30 540.00 823.70)" stroke="#bbb" stroke-width="0.9" fill="none"/>
<ellipse cx="540.00" cy="823.70" rx="1.80" ry="3.60" transform="rotate(30 540.00 823.70)" stroke="#141414" stroke-width="0.8" fill="#141414"/>
<path d="M300,713.75 C298,711 294,711 292.5,712.5 C291,714 291.3,716 291.9,717.5 C293,721 294,724 295,726.25 C297,731 300,735.5 302.5,738.75 C305,742 307.5,744.5 310,746.25 C312.5,748 315,748.9 317.5,748.75 C322,748.5 327,747.5 330,745 C332.5,743 334,741 333.75,738.75 C333.5,736.5 331.5,734.6 332.5,734.4 C333.8,734 335,734.3 336.25,735 L356.25,748.1 C358,749 359.5,748.5 361.25,747.5 L381.9,735 C384,733 385.6,730.5 385.6,727.5 L385,715 C384.8,712.5 383.7,711 382.5,710.6 C381,709.5 379.3,709.2 377.5,709.4 C374,709.8 370.5,711 367.5,712.5 L357.5,718.1 L311.25,691.25 C308,689.5 304.5,689 301.25,689.4 C298,690 295,690.8 293.75,692.5 C292,694.5 291.6,696 291.9,697.5 C292.3,699.5 293.5,701.5 295.5,703.2 C297,704.5 298.5,705.5 300.5,705.5" stroke="#141414" stroke-width="2.8" fill="#fff" />
<path d="M300.5,705.5 C303,702 307,701.5 311,703.5 C317,706.5 322.5,713.5 324.5,722 C326,729 325,735 320.5,737 C316,739 310.5,736 306,730 C303,726 301,721 300,713.75" stroke="#141414" stroke-width="2.8" fill="none" />
<path d="M303.5,708 C306,705.5 309.5,706 313,708.5 C318,712.5 321.5,719.5 322.3,726 C322.8,731 321.5,733.8 319,734.2" stroke="#141414" stroke-width="2.0" fill="none" />
<circle cx="297.5" cy="700" r="2.1" fill="#141414"/>
<circle cx="312.5" cy="698.75" r="2.1" fill="#141414"/>
<circle cx="326.9" cy="717.5" r="2.1" fill="#141414"/>
<circle cx="326.9" cy="737.5" r="2.1" fill="#141414"/>
<circle cx="311.9" cy="739.4" r="2.1" fill="#141414"/>
<circle cx="296.25" cy="721" r="2.1" fill="#141414"/>
<line x1="356.25" y1="720.00" x2="356.25" y2="746.50" stroke="#141414" stroke-width="1.0" />
<line x1="361.25" y1="718.50" x2="361.25" y2="746.00" stroke="#141414" stroke-width="1.0" />
<ellipse cx="373.75" cy="726.25" rx="3.40" ry="6.00" transform="rotate(30 373.75 726.25)" stroke="#141414" stroke-width="2.8" fill="none"/>
<path d="M382,706 L382,672 C382,653 394,643.8 407,643.8 C420,643.8 432,653 432,672 L432,706 C432,720.5 382,720.5 382,706 Z" stroke="#141414" stroke-width="3.0" fill="#fff" />
<path d="M383.3,670 C388,684 426,684 430.7,670" stroke="#141414" stroke-width="2.8" fill="none" />
<path d="M382.5,677.5 C388,691.5 426,691.5 431.5,677.5" stroke="#141414" stroke-width="2.6" fill="none" />
<path d="M382.5,690 C388,705 426,705 431.5,690" stroke="#141414" stroke-width="5.2" fill="none" />
<line x1="397.50" y1="686.50" x2="397.50" y2="715.50" stroke="#141414" stroke-width="2.2" />
<g transform="translate(590.50 810.00) rotate(30.49)">
<rect x="0" y="-4.20" width="62.67" height="8.40" rx="3.6" fill="#fff" stroke="#141414" stroke-width="3.0"/>
<line x1="5" y1="0" x2="58.67" y2="0" stroke="#999" stroke-width="0.8" stroke-dasharray="9 4"/>
<path d="M56.67,-8.10 L65.67,-9.60 L69.67,-4.32 L69.67,5.28 L64.67,9.60 L56.67,8.10 L54.67,0 Z" fill="#fff" stroke="#141414" stroke-width="3.0"/>
<path d="M60.17,-8.60 L58.17,0 L60.17,8.60" stroke="#141414" stroke-width="2.2" fill="none"/>
</g>
<g transform="translate(560.50 835.50) rotate(30.72)">
<rect x="0" y="-4.20" width="61.65" height="8.40" rx="3.6" fill="#fff" stroke="#141414" stroke-width="3.0"/>
<line x1="5" y1="0" x2="57.65" y2="0" stroke="#999" stroke-width="0.8" stroke-dasharray="9 4"/>
<path d="M55.65,-8.10 L64.65,-9.60 L68.65,-4.32 L68.65,5.28 L63.65,9.60 L55.65,8.10 L53.65,0 Z" fill="#141414" stroke="#141414" stroke-width="3.0"/>
<ellipse cx="63.15" cy="0.3" rx="4.6" ry="6.6" fill="none" stroke="#fff" stroke-width="0.9"/>
<path d="M61.35,-1.2 l3.4,1.2 M63.25,-3.2 l-0.6,6.0" stroke="#fff" stroke-width="1.0"/>
<path d="M58.45,-7.60 L56.65,0 L58.45,7.60" stroke="#fff" stroke-width="0.8" fill="none"/>
</g>
<g>
<path d="M136.7,89 L138.5,86.2 L175.4,84.3 L179.7,87.5 L179.7,139 L136.7,134 Z" stroke="#d3d3d3" stroke-width="1.1" fill="#e6e6e6"/>
<path d="M179.7,87.5 L231.3,91.3 L233.8,94 L233.8,139.5 L179.7,139 Z" stroke="#d3d3d3" stroke-width="1.1" fill="#dedede"/>
<path d="M141,134 L141,147 L150,147 L150,135 Z" stroke="#d3d3d3" stroke-width="0.8" fill="#e2e2e2"/>
<path d="M148,88 L168,87 L168,92 L148,93 Z" stroke="#d3d3d3" stroke-width="0.8" fill="#ececec"/>
<circle cx="141" cy="89.5" r="1.6" fill="#f4f4f4" stroke="#d3d3d3" stroke-width="0.7"/><circle cx="176" cy="88" r="1.8" fill="#f4f4f4" stroke="#d3d3d3" stroke-width="0.7"/>
<path d="M170,113.7 L233,114.2 L233,117.2 L170,116.8 Z" stroke="#dcecc8" stroke-width="0.3" fill="#dcecc8"/>
<path d="M170,118.8 L233,119.3 L233,121.6 L170,121.3 Z" stroke="#dcecc8" stroke-width="0.3" fill="#dcecc8"/>
<path d="M179.7,87.5 L179.7,139" stroke="#d3d3d3" stroke-width="1.6" fill="none"/>
<text x="184" y="104.3" font-family="Liberation Sans, sans-serif" font-weight="bold" font-size="9.4" fill="#fbfbfb" textLength="46.5" lengthAdjust="spacingAndGlyphs">FORTUNING</text>
<path d="M193,140 C194,131 200,128.5 212,128.5 C224,128.5 230,131 231,140 Z" stroke="#d3d3d3" stroke-width="1.0" fill="#e8e8e8"/>
<circle cx="205.5" cy="141.2" r="7.7" fill="#dedede" stroke="#d3d3d3" stroke-width="1.2"/><circle cx="205.5" cy="141.2" r="4.6" fill="#f3f3f3" stroke="#d3d3d3" stroke-width="0.9"/><circle cx="205.5" cy="141.2" r="1.6" fill="#dcdcdc"/>
<circle cx="218.4" cy="141.2" r="7.7" fill="#dedede" stroke="#d3d3d3" stroke-width="1.2"/><circle cx="218.4" cy="141.2" r="4.6" fill="#f3f3f3" stroke="#d3d3d3" stroke-width="0.9"/><circle cx="218.4" cy="141.2" r="1.6" fill="#dcdcdc"/>
<path d="M34.5,147.2 L35.3,130 L37.9,121.4 L57.7,112 L73.1,107.7 L76.6,106.8 L93.8,96.5 L131.6,95.6 L143.6,100.8 L148.8,114.5 L167.7,115.4 L171.1,126.6 L171.1,143.8 L150,147 L60,148.5 Z" stroke="#d3d3d3" stroke-width="1.2" fill="#f2f2f2"/>
<path d="M114.4,114.5 L148.8,115.4 L148.8,131.7 L117.8,133.4 Z" stroke="#e4f0d6" stroke-width="0.4" fill="#e4f0d6"/>
<path d="M76.6,106.8 L93.8,97.3 L117.8,98.2 L111,111 Z" stroke="#d3d3d3" stroke-width="1.0" fill="#e2e2e2"/>
<path d="M116,112 L121.3,100.8 L131.6,99 L135,112 Z" stroke="#d3d3d3" stroke-width="1.0" fill="#e4e4e4"/>
<path d="M135,100.5 L141.5,102 L146,113 L137.5,112.5 Z" stroke="#d3d3d3" stroke-width="1.0" fill="#e4e4e4"/>
<path d="M42.2,121.4 L71.4,122.3 L73.1,131.7 L43.9,131.7 Z" stroke="#d3d3d3" stroke-width="1.0" fill="#dcdcdc"/>
<path d="M71.4,122.3 L84,124 L83,129.5 L73,130 Z" stroke="#d3d3d3" stroke-width="0.8" fill="#f8f8f8"/>
<path d="M37.9,121.4 L42.2,121.4 L43.9,131.7 L36.5,130 Z" stroke="#d3d3d3" stroke-width="0.8" fill="#f6f6f6"/>
<path d="M35.5,134 L84,137 L86,146.5 L36,146.8 Z" stroke="#d3d3d3" stroke-width="0.9" fill="#e6e6e6"/>
<path d="M48,136.5 L60,137.2 L60,141 L48,140.6 Z" stroke="#d3d3d3" stroke-width="0.6" fill="#f6f6f6"/>
<path d="M57.7,112 L90,110 L111,111" stroke="#d3d3d3" stroke-width="0.9" fill="none"/>
<path d="M114.4,114.5 L117.8,133.4 M135,112 L136.5,132.5" stroke="#d3d3d3" stroke-width="0.8" fill="none"/>
<path d="M92,140 C92.5,128.5 98,125.5 106,125.5 C114,125.5 119.5,128.5 120,140" stroke="#d3d3d3" stroke-width="1.0" fill="#e9e9e9"/>
<path d="M148,139.5 C148.5,128 154,124.8 161.6,124.8 C169,124.8 171,128 171.1,134" stroke="#d3d3d3" stroke-width="1.0" fill="#e9e9e9"/>
<circle cx="105.8" cy="139.5" r="10.4" fill="#dcdcdc" stroke="#d3d3d3" stroke-width="1.3"/><circle cx="105.8" cy="139.5" r="6.6" fill="#f4f4f4" stroke="#d3d3d3" stroke-width="1"/><circle cx="105.8" cy="139.5" r="2" fill="#dcdcdc"/>
<circle cx="161.6" cy="138.6" r="10.4" fill="#dcdcdc" stroke="#d3d3d3" stroke-width="1.3"/><circle cx="161.6" cy="138.6" r="6.6" fill="#f4f4f4" stroke="#d3d3d3" stroke-width="1"/><circle cx="161.6" cy="138.6" r="2" fill="#dcdcdc"/>
<line x1="32" y1="150.6" x2="237.3" y2="150.6" stroke="#d9d9d9" stroke-width="1.4"/>
<text class="lg" x="37" y="173.9" font-size="23" textLength="198.5" lengthAdjust="spacingAndGlyphs">FORTUNING.BY</text>
<line x1="37" y1="178.6" x2="235.5" y2="178.6" stroke="#e2e2e2" stroke-width="1.1"/>
</g>
<text class="wm" transform="translate(82 254) rotate(-43)" text-anchor="middle" textLength="74" lengthAdjust="spacingAndGlyphs">Fortuning.by</text>
<text class="wm" transform="translate(427 254) rotate(-43)" text-anchor="middle" textLength="74" lengthAdjust="spacingAndGlyphs">Fortuning.by</text>
<text class="wm" transform="translate(771 254) rotate(-43)" text-anchor="middle" textLength="74" lengthAdjust="spacingAndGlyphs">Fortuning.by</text>
<text class="wm" transform="translate(1114 254) rotate(-43)" text-anchor="middle" textLength="74" lengthAdjust="spacingAndGlyphs">Fortuning.by</text>
<text class="wm" transform="translate(255 600) rotate(-43)" text-anchor="middle" textLength="74" lengthAdjust="spacingAndGlyphs">Fortuning.by</text>
<text class="wm" transform="translate(599 600) rotate(-43)" text-anchor="middle" textLength="74" lengthAdjust="spacingAndGlyphs">Fortuning.by</text>
<text class="wm" transform="translate(943 600) rotate(-43)" text-anchor="middle" textLength="74" lengthAdjust="spacingAndGlyphs">Fortuning.by</text>
<text class="wm" transform="translate(1287 600) rotate(-43)" text-anchor="middle" textLength="74" lengthAdjust="spacingAndGlyphs">Fortuning.by</text>
<text class="wm" transform="translate(82 947) rotate(-43)" text-anchor="middle" textLength="74" lengthAdjust="spacingAndGlyphs">Fortuning.by</text>
<text class="wm" transform="translate(427 947) rotate(-43)" text-anchor="middle" textLength="74" lengthAdjust="spacingAndGlyphs">Fortuning.by</text>
<text class="wm" transform="translate(771 947) rotate(-43)" text-anchor="middle" textLength="74" lengthAdjust="spacingAndGlyphs">Fortuning.by</text>
<text class="wm" transform="translate(1114 947) rotate(-43)" text-anchor="middle" textLength="74" lengthAdjust="spacingAndGlyphs">Fortuning.by</text>
</g>
</svg>
</body></html>
